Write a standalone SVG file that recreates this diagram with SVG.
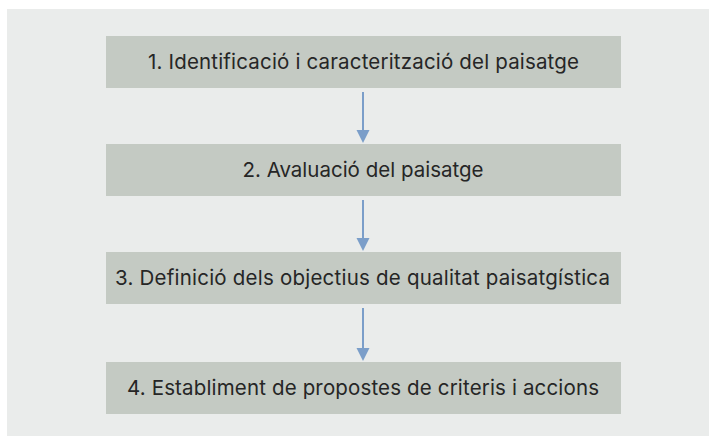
<svg xmlns="http://www.w3.org/2000/svg" width="709" height="436" viewBox="0 0 709 436">
<defs>
<style>
.box{fill:#c4cac3}
.lbl{font-family:Inter,"Liberation Sans",sans-serif;font-size:20.5px;fill:#262626;text-anchor:middle}
.conn{stroke:#7b9ec9;stroke-width:2;fill:none}
.head{fill:#7b9ec9}
</style>
</defs>
<rect x="0" y="0" width="709" height="436" fill="#ffffff"/>
<rect x="7" y="9" width="702" height="427" fill="#eaeceb"/>
<g id="node1"><rect class="box" x="106" y="36" width="515" height="52"/><text class="lbl" x="363.5" y="68.5" textLength="431">1. Identificació i caracterització del paisatge</text></g>
<g id="node2"><rect class="box" x="106" y="144" width="515" height="52"/><text class="lbl" x="363" y="176.5" textLength="241">2. Avaluació del paisatge</text></g>
<g id="node3"><rect class="box" x="106" y="252" width="515" height="52"/><text class="lbl" x="362.5" y="284.5" textLength="495">3. Definició dels objectius de qualitat paisatgística</text></g>
<g id="node4"><rect class="box" x="106" y="362" width="515" height="52"/><text class="lbl" x="363" y="394.5" textLength="472">4. Establiment de propostes de criteris i accions</text></g>
<g id="connectors">
<path class="conn" d="M363 92V131"/><path class="head" d="M356.5 130H369.5L363 143Z"/>
<path class="conn" d="M363 200V239"/><path class="head" d="M356.5 238H369.5L363 251Z"/>
<path class="conn" d="M363 308V349"/><path class="head" d="M356.5 348H369.5L363 361Z"/>
</g>
</svg>
